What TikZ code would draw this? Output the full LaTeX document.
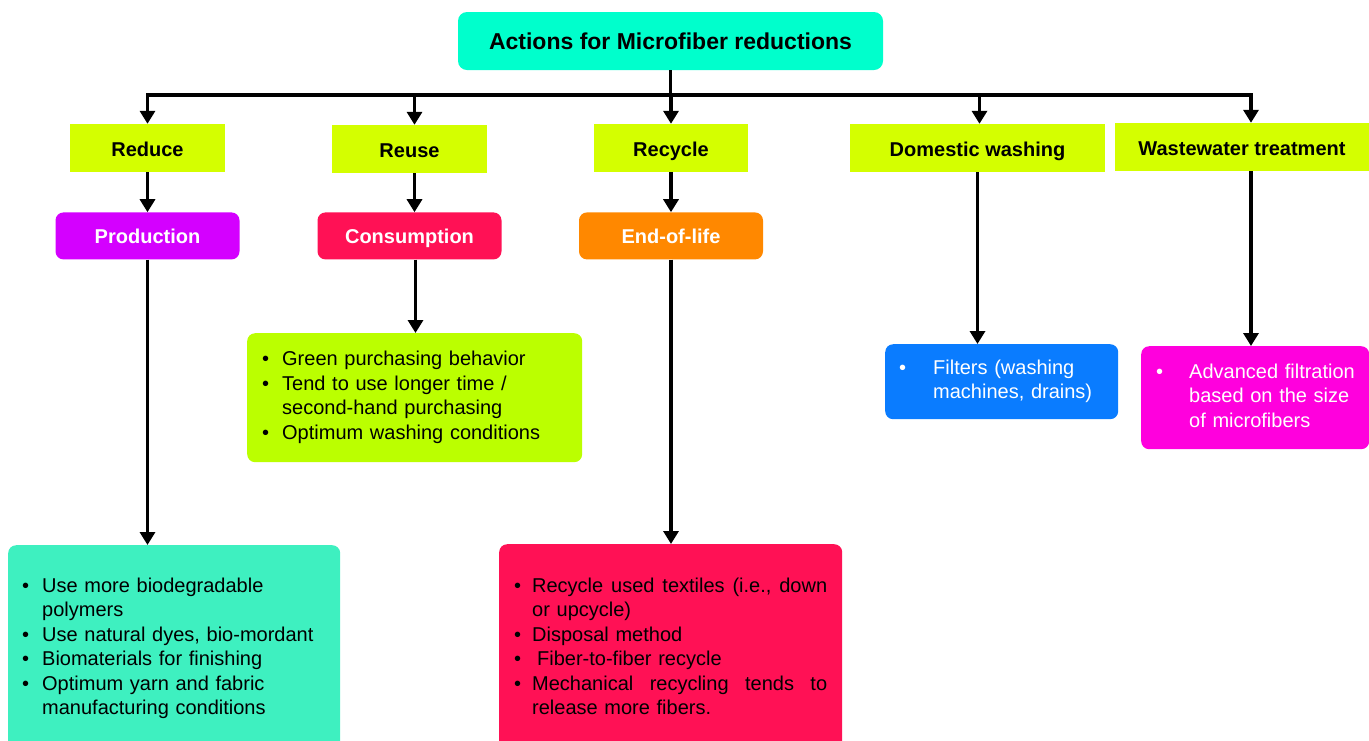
\documentclass[tikz,border=0pt]{standalone}
\usepackage{fontspec}
\setmainfont{Liberation Sans}
\usetikzlibrary{positioning}
\usetikzlibrary{arrows.meta}
\definecolor{headcol}{RGB}{0,255,204}
\definecolor{actcol}{RGB}{212,255,0}
\definecolor{prodcol}{RGB}{212,0,255}
\definecolor{conscol}{RGB}{255,17,85}
\definecolor{eolcol}{RGB}{255,136,0}
\definecolor{greencol}{RGB}{187,255,0}
\definecolor{tealcol}{RGB}{62,240,192}
\definecolor{bluecol}{RGB}{10,124,255}
\definecolor{magcol}{RGB}{255,0,221}
\tikzset{>={Triangle[length=13pt,width=15pt]}}
\tikzset{arr/.style={->,line width=3.5pt}}
\tikzset{head/.style={fill=headcol,rounded corners=9pt,minimum width=425pt,minimum height=58pt,font=\fontsize{23}{27}\selectfont\bfseries}}
\tikzset{act/.style={fill=actcol,minimum height=48pt,inner sep=0pt,text height=18pt,text depth=2pt,font=\fontsize{20}{24}\selectfont\bfseries}}
\tikzset{stage/.style={rounded corners=8pt,minimum width=184pt,minimum height=47pt,inner sep=0pt,text height=18pt,text depth=2pt,text=white,font=\fontsize{20}{24}\selectfont\bfseries}}
\tikzset{items/.style={anchor=north west,rounded corners=8pt,align=left,inner xsep=15pt,inner ysep=0pt,font=\fontsize{20}{24.5}\selectfont}}

\begin{document}
\begin{tikzpicture}[x=1pt,y=-1pt]
\useasboundingbox (0,0) rectangle (1369,740);

\node[head] (head) at (670.5,41) {Actions for Microfiber reductions};
\coordinate (bus) at (670,95);

% actions
\node[act,minimum width=155pt] (reduce) at (147.5,148) {Reduce};
\node[act,minimum width=155pt] (reuse) at (409.5,149) {Reuse};
\node[act,minimum width=154pt] (recycle) at (671,148) {Recycle};
\node[act,minimum width=255pt] (domestic) at (977.5,148) {Domestic washing};
\node[act,minimum width=254pt] (waste) at (1242,147) {Wastewater treatment};

% stages
\node[stage,fill=prodcol] (prod) [below = 40pt of reduce] {Production};
\node[stage,fill=conscol] (cons) [below = 39pt of reuse] {Consumption};
\node[stage,fill=eolcol] (eol) [below = 40pt of recycle] {End-of-life};

% lists
\node[items,fill=greencol,text width=305pt,minimum height=129pt] (conslist) at (247,333) {%
\noindent\begin{tabular}{@{}p{20pt}@{}l@{}}
\textbullet & Green purchasing behavior\\
\textbullet & Tend to use longer time /\\
 & second-hand purchasing\\
\textbullet & Optimum washing conditions
\end{tabular}};

\node[items,fill=tealcol,text width=304pt,inner xsep=14pt,inner ysep=30pt] (prodlist) at (8,545) {%
\noindent\begin{tabular}{@{}p{20pt}@{}l@{}}
\textbullet & Use more biodegradable\\
 & polymers\\
\textbullet & Use natural dyes, bio-mordant\\
\textbullet & Biomaterials for finishing\\
\textbullet & Optimum yarn and fabric\\
 & manufacturing conditions
\end{tabular}};

\node[items,fill=conscol,text width=313pt,inner ysep=31pt] (eollist) at (499,544) {%
\noindent\begin{tabular}{@{}p{18pt}@{}l@{}}
\textbullet & \makebox[295pt][l]{Recycle\hfill used\hfill textiles\hfill (i.e.,\hfill down}\\
 & or upcycle)\\
\textbullet & Disposal method\\
\textbullet & \hspace{5pt}Fiber-to-fiber recycle\\
\textbullet & \makebox[295pt][l]{Mechanical\hfill recycling\hfill tends\hfill to}\\
 & release more fibers.
\end{tabular}};

\node[items,fill=bluecol,text=white,text width=205pt,inner xsep=14pt,minimum height=75pt] (filt) at (885,344) {%
\noindent\begin{tabular}{@{}p{34pt}@{}l@{}}
\textbullet & Filters (washing\\
 & machines, drains)
\end{tabular}};

\node[items,fill=magcol,text=white,text width=198pt,minimum height=103pt] (advfilt) at (1141,346) {%
\noindent\begin{tabular}{@{}p{33pt}@{}l@{}}
\textbullet & Advanced filtration\\
 & based on the size\\
 & of microfibers
\end{tabular}};

% connectors
\draw[line width=3.5pt] (head) -- (head |- bus);
\draw[line width=3.5pt,line cap=rect] (reduce |- bus) -- ([xshift=9pt]waste.north |- bus);
\draw[arr] (reduce |- bus) -- (reduce);
\draw[arr] ([xshift=5pt]reuse.north |- bus) -- ([xshift=5pt]reuse.north);
\draw[arr] (recycle |- bus) -- (recycle);
\draw[arr] ([xshift=2pt]domestic.north |- bus) -- ([xshift=2pt]domestic.north);
\draw[arr] ([xshift=9pt]waste.north |- bus) -- ([xshift=9pt]waste.north);

\draw[arr] (reduce) -- (prod);
\draw[arr] ([xshift=5pt]reuse.south) -- ([xshift=5pt]reuse.south |- cons.north);
\draw[arr] (recycle) -- (eol);

\draw[arr] (prod) -- (prod |- prodlist.north);
\draw[arr] ([xshift=6pt]cons.south) -- ([xshift=6pt]cons.south |- conslist.north);
\draw[arr] (eol) -- (eol |- eollist.north);
\draw[arr] (domestic) -- (domestic |- filt.north);
\draw[arr] ([xshift=9pt]waste.south) -- ([xshift=9pt]waste.south |- advfilt.north);
\end{tikzpicture}
\end{document}
